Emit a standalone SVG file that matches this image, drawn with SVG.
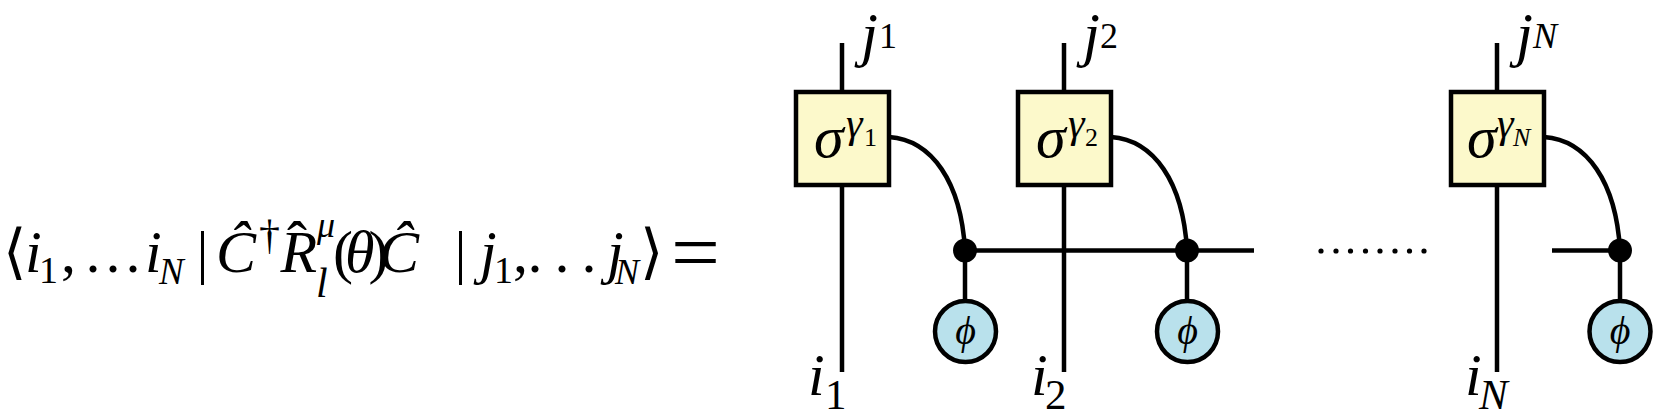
<svg xmlns="http://www.w3.org/2000/svg" width="1661" height="417" viewBox="0 0 1661 417">
<style>
.t{font-family:"Liberation Serif","DejaVu Serif",serif;fill:#000}
.it{font-style:italic}
.ln{stroke:#000;stroke-width:4.5;fill:none}
.box{fill:#fcf9cb;stroke:#000;stroke-width:4.5}
.phi{fill:#b9e1ec;stroke:#000;stroke-width:4.5}
.dot{fill:#000}
</style>
<rect width="1661" height="417" fill="#fff"/>
<g id="formula">
<text class="t" font-size="60"><tspan x="3" y="272">⟨</tspan><tspan class="it" x="25" y="272">i</tspan><tspan x="39" y="283" font-size="38">1</tspan><tspan x="61" y="272">,</tspan><tspan x="85.5" y="272">.</tspan><tspan x="105.5" y="272">.</tspan><tspan x="125.5" y="272">.</tspan><tspan class="it" x="145" y="272">i</tspan><tspan class="it" x="159" y="284" font-size="37">N</tspan><tspan x="196.5" y="272">|</tspan><tspan class="it" x="216" y="272">Ĉ</tspan><tspan x="259" y="249" font-size="42">†</tspan><tspan class="it" x="280.5" y="272">R</tspan><tspan x="287" y="262">ˆ</tspan><tspan class="it" x="317" y="237" font-size="36">μ</tspan><tspan class="it" x="316" y="297" font-size="42">l</tspan><tspan x="333" y="272">(</tspan><tspan class="it" x="345" y="272">θ</tspan><tspan x="368.5" y="272">)</tspan><tspan class="it" x="379" y="272">Ĉ</tspan><tspan x="454.5" y="272">|</tspan><tspan class="it" x="480" y="272">j</tspan><tspan x="494" y="283" font-size="38">1</tspan><tspan x="513" y="272">,</tspan><tspan x="527.5" y="272">.</tspan><tspan x="554.5" y="272">.</tspan><tspan x="581.5" y="272">.</tspan><tspan class="it" x="607" y="272">j</tspan><tspan class="it" x="615" y="284" font-size="36">N</tspan><tspan x="640" y="272">⟩</tspan><tspan x="671" y="280" font-size="82" textLength="49" lengthAdjust="spacingAndGlyphs">=</tspan></text>
</g>
<g id="connectors" class="ln">
<line x1="842" y1="43" x2="842" y2="92"/>
<line x1="842" y1="185" x2="842" y2="372"/>
<line x1="1064" y1="43" x2="1064" y2="92"/>
<line x1="1064" y1="185" x2="1064" y2="372"/>
<line x1="1497" y1="43" x2="1497" y2="92"/>
<line x1="1497" y1="185" x2="1497" y2="372"/>
<path d="M889 137 C932 140 961 182 965 250"/>
<path d="M1111 137 C1154 140 1183 182 1187 250"/>
<path d="M1544 137 C1587 140 1616 182 1620 250"/>
<line x1="965" y1="250.5" x2="1254" y2="250.5"/>
<line x1="1552" y1="250.5" x2="1620" y2="250.5"/>
<line x1="965" y1="250" x2="965" y2="300"/>
<line x1="1187" y1="250" x2="1187" y2="300"/>
<line x1="1620" y1="250" x2="1620" y2="300"/>
</g>
<g id="ellipsis" class="dot">
<circle cx="1321" cy="251" r="2.6"/><circle cx="1336" cy="251" r="2.6"/><circle cx="1350.5" cy="251" r="2.6"/><circle cx="1365.5" cy="251" r="2.6"/><circle cx="1380" cy="251" r="2.6"/><circle cx="1395" cy="251" r="2.6"/><circle cx="1409.5" cy="251" r="2.6"/><circle cx="1424" cy="251" r="2.6"/>
</g>
<g id="node-sigma1">
<rect class="box" x="796" y="92" width="93" height="93"/>
<text class="t" font-size="60"><tspan class="it" x="814" y="157">σ</tspan><tspan class="it" x="846" y="137" font-size="42">γ</tspan><tspan x="864" y="146" font-size="26">1</tspan></text>
</g>
<g id="node-sigma2">
<rect class="box" x="1018" y="92" width="93" height="93"/>
<text class="t" font-size="60"><tspan class="it" x="1036" y="157">σ</tspan><tspan class="it" x="1068" y="137" font-size="42">γ</tspan><tspan x="1085" y="146" font-size="26">2</tspan></text>
</g>
<g id="node-sigmaN">
<rect class="box" x="1451" y="92" width="93" height="93"/>
<text class="t" font-size="60"><tspan class="it" x="1467" y="157">σ</tspan><tspan class="it" x="1497" y="137" font-size="42">γ</tspan><tspan class="it" x="1513" y="146" font-size="26">N</tspan></text>
</g>
<g id="node-dot1"><circle class="dot" cx="965" cy="250.5" r="12"/></g>
<g id="node-dot2"><circle class="dot" cx="1187" cy="250.5" r="12"/></g>
<g id="node-dotN"><circle class="dot" cx="1620" cy="250.5" r="12"/></g>
<g id="node-phi1">
<circle class="phi" cx="965.5" cy="331.5" r="30.5"/>
<text class="t it" x="965.5" y="344" font-size="40" text-anchor="middle">ϕ</text>
</g>
<g id="node-phi2">
<circle class="phi" cx="1187.5" cy="331.5" r="30.5"/>
<text class="t it" x="1187.5" y="344" font-size="40" text-anchor="middle">ϕ</text>
</g>
<g id="node-phiN">
<circle class="phi" cx="1620" cy="331.5" r="30.5"/>
<text class="t it" x="1620" y="344" font-size="40" text-anchor="middle">ϕ</text>
</g>
<g id="label-j1"><text class="t"><tspan class="it" x="861" y="54.5" font-size="61">j</tspan><tspan x="879" y="48" font-size="36">1</tspan></text></g>
<g id="label-j2"><text class="t"><tspan class="it" x="1083" y="54.5" font-size="61">j</tspan><tspan x="1100" y="48" font-size="36">2</tspan></text></g>
<g id="label-jN"><text class="t"><tspan class="it" x="1516" y="54.5" font-size="61">j</tspan><tspan class="it" x="1533" y="48" font-size="36">N</tspan></text></g>
<g id="label-i1"><text class="t"><tspan class="it" x="808" y="395" font-size="60">i</tspan><tspan x="825" y="409" font-size="43">1</tspan></text></g>
<g id="label-i2"><text class="t"><tspan class="it" x="1031" y="395" font-size="60">i</tspan><tspan x="1045" y="409" font-size="43">2</tspan></text></g>
<g id="label-iN"><text class="t"><tspan class="it" x="1465" y="395" font-size="60">i</tspan><tspan class="it" x="1479" y="409" font-size="43">N</tspan></text></g>
</svg>
